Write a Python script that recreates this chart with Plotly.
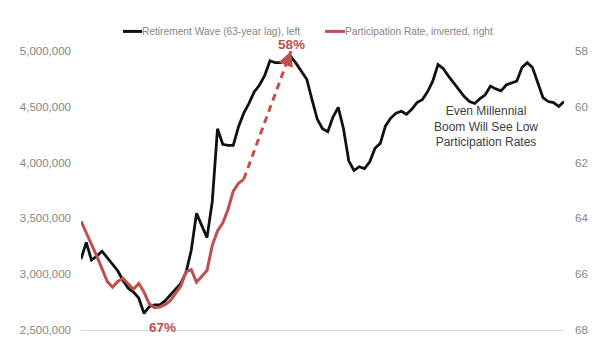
import plotly.graph_objects as go

# ---- data -------------------------------------------------------------
years = list(range(1985, 2078))
retirement_wave = [
    3136000, 3284000, 3127000, 3162000, 3206000, 3145000, 3092000, 3031000,
    2944000, 2875000, 2840000, 2787000, 2648000, 2709000, 2726000, 2726000,
    2761000, 2814000, 2866000, 2918000, 3014000, 3214000, 3545000, 3441000,
    3328000, 3650000, 4303000, 4164000, 4155000, 4155000, 4321000, 4443000,
    4530000, 4634000, 4695000, 4782000, 4913000, 4895000, 4895000, 4930000,
    4948000, 4887000, 4817000, 4747000, 4564000, 4390000, 4303000, 4277000,
    4408000, 4495000, 4303000, 4016000, 3929000, 3963000, 3946000, 4007000,
    4129000, 4172000, 4329000, 4399000, 4443000, 4460000, 4434000, 4477000,
    4538000, 4564000, 4634000, 4730000, 4878000, 4843000, 4774000, 4713000,
    4643000, 4591000, 4547000, 4530000, 4573000, 4608000, 4686000, 4660000,
    4643000, 4695000, 4713000, 4730000, 4852000, 4895000, 4852000, 4721000,
    4582000, 4547000, 4538000, 4503000, 4547000,
]

part_years = list(range(1985, 2017))
participation = [
    64.10, 64.50, 64.92, 65.35, 65.80, 66.26, 66.47, 66.26,
    66.15, 66.36, 66.54, 66.33, 66.64, 67.06, 67.20, 67.18,
    67.09, 66.95, 66.71, 66.43, 65.91, 65.84, 66.29, 66.08,
    65.87, 64.97, 64.45, 64.17, 63.68, 63.02, 62.74, 62.60,
]

# projected participation rate (dashed arrow)
proj_years = [2016, 2025]
proj_rate = [participation[-1], 58.0]

left_ticks = [2500000, 3000000, 3500000, 4000000, 4500000, 5000000]
right_ticks = [58, 60, 62, 64, 66, 68]

BLACK = "#111111"
RED = "#c0504d"
GREY = "#858585"
FONT = "Liberation Sans, Arial, sans-serif"

fig = go.Figure()

fig.add_trace(go.Scatter(
    x=years, y=retirement_wave, mode="lines",
    line=dict(color=BLACK, width=2.8),
    name="Retirement Wave (63-year lag), left", yaxis="y",
))
fig.add_trace(go.Scatter(
    x=part_years, y=participation, mode="lines",
    line=dict(color=RED, width=3),
    name="Participation Rate, inverted, right", yaxis="y2",
))
fig.add_trace(go.Scatter(
    x=proj_years, y=proj_rate, mode="lines",
    line=dict(color=RED, width=3, dash="7px,5px"),
    yaxis="y2", showlegend=False,
))

# arrow head at the end of the projection
frac = 0.93
tail_x = proj_years[0] + frac * (proj_years[1] - proj_years[0])
tail_y = proj_rate[0] + frac * (proj_rate[1] - proj_rate[0])

min_idx = participation.index(max(participation))

annotations = [
    dict(x=proj_years[1], y=proj_rate[1], xref="x", yref="y2",
         ax=tail_x, ay=tail_y, axref="x", ayref="y2",
         showarrow=True, arrowhead=2, arrowsize=1, arrowwidth=3,
         arrowcolor=RED, text=""),
    dict(x=proj_years[1], y=proj_rate[1], xref="x", yref="y2",
         text=f"{proj_rate[1]:.0f}%", showarrow=False,
         yanchor="bottom", yshift=-3,
         font=dict(color=RED, size=13.5, family=FONT, weight="bold")),
    dict(x=part_years[min_idx], y=participation[min_idx], xref="x", yref="y2",
         text=f"{participation[min_idx]:.0f}%", showarrow=False,
         yanchor="top", yshift=-10, xshift=8,
         font=dict(color=RED, size=13.5, family=FONT, weight="bold")),
    dict(x=0.8385, y=0.73, xref="paper", yref="paper",
         text="Even Millennial<br>Boom Will See Low<br>Participation Rates",
         showarrow=False, xanchor="center", yanchor="middle", align="center",
         font=dict(color="#404040", size=12, family=FONT)),
    # legend labels
    dict(x=0.1263, y=1.0702, xref="paper", yref="paper",
         text="Retirement Wave (63-year lag), left", showarrow=False,
         xanchor="left", yanchor="middle", xshift=-2,
         font=dict(color=GREY, size=10.2, family=FONT)),
    dict(x=0.5466, y=1.0702, xref="paper", yref="paper",
         text="Participation Rate, inverted, right", showarrow=False,
         xanchor="left", yanchor="middle", xshift=-2,
         font=dict(color=GREY, size=10.2, family=FONT)),
]

shapes = [
    dict(type="line", xref="paper", yref="paper", x0=0.0870, x1=0.1263,
         y0=1.0702, y1=1.0702, line=dict(color=BLACK, width=3)),
    dict(type="line", xref="paper", yref="paper", x0=0.5052, x1=0.5466,
         y0=1.0702, y1=1.0702, line=dict(color=RED, width=3)),
]

fig.update_layout(
    width=616, height=346,
    margin=dict(l=81, r=52, t=51, b=10),
    paper_bgcolor="white", plot_bgcolor="white",
    font=dict(family=FONT, color=GREY, size=11.5),
    showlegend=False,
    annotations=annotations,
    shapes=shapes,
    xaxis=dict(
        range=[years[0], years[-1]], showticklabels=False, ticks="",
        showgrid=False, zeroline=False,
        showline=True, linecolor="#d9d9d9", linewidth=1,
    ),
    yaxis=dict(
        range=[left_ticks[0], left_ticks[-1]], tickvals=left_ticks,
        tickformat=",d", showgrid=False, zeroline=False, showline=False,
        ticks="", ticklabelstandoff=9,
        tickfont=dict(color=GREY, size=11.5, family=FONT),
    ),
    yaxis2=dict(
        overlaying="y", side="right",
        range=[right_ticks[-1], right_ticks[0]], tickvals=right_ticks,
        ticksuffix="%", showgrid=False, zeroline=False, showline=False,
        ticks="", ticklabelstandoff=10,
        tickfont=dict(color=GREY, size=11.5, family=FONT),
    ),
)

fig.write_html("out.html")
